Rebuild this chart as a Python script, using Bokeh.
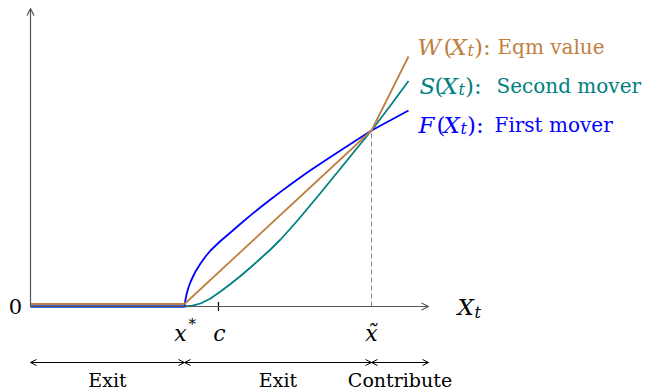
from bokeh.plotting import figure
from bokeh.models import Range1d, Arrow, OpenHead, Label
from bokeh.embed import file_html
from bokeh.resources import INLINE

# Key states on the X_t axis
x_star = 15.4     # exit threshold x*
c_level = 18.8    # cost c
x_tilde = 34.1    # contribute threshold x~
x_end = 39.8      # end of the X_t axis
y_end = 29.8      # top of the value axis

# F(X_t): first mover value
F_x = [0.0, 15.4, 15.5, 15.6, 15.8, 16.0, 16.3, 16.5, 17.0, 17.5, 18.0, 19.0, 20.0,
       21.0, 22.0, 23.0, 24.0, 25.0, 26.0, 27.0, 28.0, 30.0, 32.0, 34.1, 36.0, 37.8]
F_y = [0.0, 0.0, 0.7, 1.2, 1.9, 2.45, 3.1, 3.5, 4.3, 5.0, 5.6, 6.55, 7.4,
       8.27, 9.11, 9.92, 10.7, 11.46, 12.2, 12.92, 13.62, 14.96, 16.24, 17.6, 18.62, 19.6]

# S(X_t): second mover value
S_x = [0.0, 15.4, 16.2, 17.0, 18.0, 19.0, 20.0, 21.0, 22.0, 23.0, 24.0, 25.0,
       26.0, 27.0, 29.0, 31.0, 32.5, 34.1, 36.0, 37.8]
S_y = [0.0, 0.0, 0.08, 0.3, 0.8, 1.5, 2.25, 3.05, 3.9, 4.8, 5.7, 6.7,
       7.8, 8.95, 11.35, 13.8, 15.65, 17.6, 20.1, 22.55]

# W(X_t): equilibrium value
W_x = [0.0, 15.4, 34.1, 37.8]
W_y = [0.25, 0.25, 17.6, 25.0]

BROWN = "#BF8040"
TEAL = "#008080"
BLUE = "#0000FF"
AXIS = "#555555"
SERIF = "DejaVu Serif"

p = figure(width=649, height=389,
           x_range=Range1d(-3.0, 61.9), y_range=Range1d(-8.3, 30.6),
           output_backend="svg", toolbar_location=None, min_border=0,
           x_axis_type=None, y_axis_type=None, outline_line_color=None,
           background_fill_color="white", border_fill_color="white")
p.grid.visible = False

# axes with arrow tips
p.add_layout(Arrow(x_start=0, y_start=0, x_end=x_end, y_end=0,
                   line_color=AXIS, line_width=1.2,
                   end=OpenHead(size=7, line_color=AXIS, line_width=1.2)))
p.add_layout(Arrow(x_start=0, y_start=0, x_end=0, y_end=y_end,
                   line_color=AXIS, line_width=1.2,
                   end=OpenHead(size=7, line_color=AXIS, line_width=1.2)))

# tick at c and dashed guide at x~
p.segment(x0=[c_level], y0=[-0.45], x1=[c_level], y1=[0.45], line_color="black", line_width=1.2)
p.segment(x0=[x_tilde], y0=[0], x1=[x_tilde], y1=[F_y[F_x.index(x_tilde)]],
          line_color="#888888", line_width=1, line_dash="5 3")

# value curves
p.line(S_x, S_y, line_color=TEAL, line_width=1.8)
p.line(F_x, F_y, line_color=BLUE, line_width=1.8)
p.line(W_x, W_y, line_color=BROWN, line_width=1.8)


def px(v):
    """horizontal screen offset (pixels from the left) to data units"""
    return (v - 30) / 10.0


def txt(x, y, s, size, color="black", style="normal", align="left", base="alphabetic"):
    p.add_layout(Label(x=x, y=y, text=s, text_font=SERIF, text_font_size=size,
                       text_color=color, text_font_style=style,
                       text_align=align, text_baseline=base))


def func_label(name, desc, y, color, x_name, x_paren, x_desc):
    txt(px(x_name), y, name, "23px", color, "italic")
    txt(px(x_paren), y, "(", "23px", color)
    txt(px(x_paren + 7), y, "X", "23px", color, "italic")
    txt(px(x_paren + 24), y - 0.4, "t", "16px", color, "italic")
    txt(px(x_paren + 30.5), y, "):", "23px", color)
    txt(px(x_desc), y, desc, "20px", color)


func_label("W", "Eqm value", 26.0, BROWN, 417, 443, 497)
func_label("S", "Second mover", 22.1, TEAL, 419, 434, 496)
func_label("F", "First mover", 18.2, BLUE, 418, 436, 494)

# axis annotations
txt(-1.5, 0, "0", "21px", align="center", base="middle")
txt(x_star - 0.4, -2.7, "x", "22px", style="italic", align="center")
txt(x_star + 0.4, -1.7, "*", "15px", align="left")
txt(c_level + 0.1, -2.7, "c", "22px", style="italic", align="center")
txt(x_tilde, -2.7, "x\u0303", "22px", style="italic", align="center")
txt(42.7, 0, "X", "23px", style="italic", align="left", base="middle")
txt(44.4, -0.6, "t", "16px", style="italic", align="left", base="middle")

# regions below the axis
yb = -5.6
for a, b in [(0, x_star), (x_star, x_tilde), (x_tilde, x_end)]:
    p.add_layout(Arrow(x_start=a, y_start=yb, x_end=b, y_end=yb,
                       line_color="black", line_width=1,
                       start=OpenHead(size=6, line_color="black", line_width=1),
                       end=OpenHead(size=6, line_color="black", line_width=1)))
yl = -7.3
txt(x_star / 2, yl, "Exit", "19px", align="center")
txt((x_star + x_tilde) / 2, yl, "Exit", "19px", align="center")
txt((x_tilde + x_end) / 2, yl, "Contribute", "19px", align="center")

open("out.html", "w").write(file_html(p, INLINE))
